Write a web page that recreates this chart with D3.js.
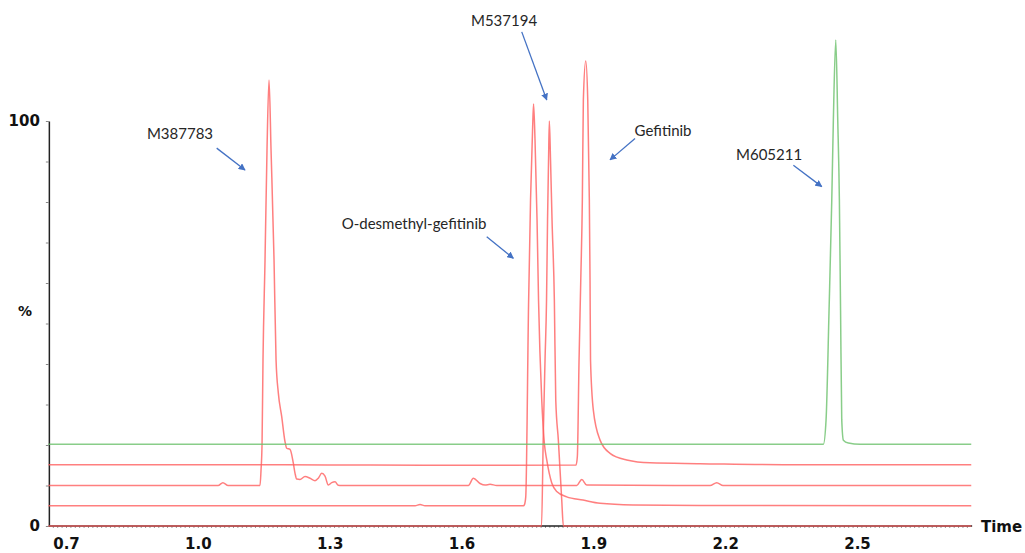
<!DOCTYPE html>
<html>
<head>
<meta charset="utf-8">
<script src="https://cdn.jsdelivr.net/npm/d3@7"></script>
<style>
  html, body { margin: 0; padding: 0; background: #fff; }
  svg { display: block; }
</style>
</head>
<body>
<div id="chart"></div>
<script>
// traces: [time, %] (stacked with baseline offsets)
const traceM605211 = [
  [0.66, 20.2], [1.5, 20.2], [2.4235, 20.2], [2.4296, 26.2], [2.4364, 53.3], [2.4426, 80.5],
  [2.4462, 100.2], [2.4517, 120], [2.4562, 100.2], [2.4599, 80.5], [2.4626, 53.3],
  [2.4653, 26.2], [2.469, 21.2], [2.4804, 20.5], [2.507, 20.2], [2.76, 20.2]
];
const traceGefitinib = [
  [0.66, 15.1], [1.2, 15.1], [1.6, 15], [1.8607, 15.06], [1.8636, 17.1], [1.8675, 41],
  [1.8714, 60.7], [1.875, 80.5], [1.8773, 105.2], [1.8827, 114.8], [1.8873, 105.2],
  [1.8909, 80.5], [1.8925, 60.7], [1.8936, 41], [1.9, 28.6], [1.9153, 21.2], [1.938, 17.95],
  [1.976, 16.3], [2.0291, 15.6], [2.1429, 15.4], [2.3704, 15.1], [2.76, 15.1]
];
const traceM387783 = [
  [0.66, 10], [1.046, 10], [1.057, 10.7], [1.069, 10], [1.1415, 10], [1.1438, 13.8],
  [1.1461, 20.2], [1.1483, 41], [1.1529, 65.7], [1.1574, 92.8], [1.162, 110.1],
  [1.1666, 92.8], [1.1734, 65.7], [1.178, 41], [1.1832, 32.8], [1.1909, 27], [1.1984, 20.8],
  [1.2023, 19.2], [1.2098, 18.9], [1.2173, 15.5], [1.2212, 13], [1.225, 11.6], [1.2325, 11.5],
  [1.2439, 12.2], [1.2553, 11.8], [1.2667, 11.2], [1.2742, 11.8], [1.2819, 13], [1.2894, 12.3],
  [1.2969, 10.1], [1.3047, 10.7], [1.3122, 10.9], [1.3197, 10.05], [1.3258, 10],
  [1.6156, 10], [1.627, 11.8], [1.6422, 10.5], [1.6536, 10.1], [1.665, 10.3], [1.6802, 10],
  [1.8623, 10], [1.8737, 11.5], [1.885, 10.1], [2.1656, 10], [2.1808, 10.7], [2.1952, 10],
  [2.76, 10]
];
const traceDesmethyl = [
  [0.66, 5], [1.4943, 5], [1.5056, 5.3], [1.517, 5], [1.7412, 5], [1.743, 5.2], [1.7462, 7.2],
  [1.7526, 54.6], [1.7571, 80.5], [1.7617, 97.8], [1.764, 104.2], [1.7673, 95.3],
  [1.7719, 75.6], [1.7753, 55.8], [1.7826, 31.1], [1.7885, 20.5], [1.794, 16.3],
  [1.8054, 10.6], [1.8167, 8.5], [1.8395, 7.2], [1.8766, 6.4], [1.9153, 5.6], [1.9904, 5.2],
  [2.1429, 5.05], [2.76, 5]
];
const traceM537194 = [
  [0.66, 0], [1.7821, 0], [1.7862, 23], [1.7901, 41], [1.7935, 55.8], [1.7958, 75.6],
  [1.7981, 90.4], [1.7999, 100], [1.8026, 90.4], [1.806, 75.6], [1.8113, 55.8],
  [1.8145, 31.1], [1.8204, 21.2], [1.8281, 6.4], [1.8318, 0], [2.76, 0]
];

const xTickLabels = [0.7, 1.0, 1.3, 1.6, 1.9, 2.2, 2.5];
const yTickLabels = [0, 100];

// annotation: label anchor [t, %] and arrow from -> to
const labels = ["M387783", "M537194", "O-desmethyl-gefitinib", "Gefitinib", "M605211"];
const labelAt = [[0.9594, 95.5], [1.6968, 123.5], [1.492, 73.3], [2.0587, 96.3], [2.30, 90.3]];
const arrowFrom = [[1.0429, 93.3], [1.7371, 122], [1.6574, 71.4], [1.9949, 95.7], [2.3552, 89.1]];
const arrowTo = [[1.1074, 87.9], [1.794, 105.2], [1.718, 66.1], [1.938, 90.4], [2.4198, 83.8]];

const W = 1025, H = 553;

const svg = d3.select("#chart")
  .append("svg")
  .attr("width", W)
  .attr("height", H);

const x = d3.scaleLinear().domain([0.7, 2.5]).range([66, 857]);
const y = d3.scaleLinear().domain([0, 100]).range([526, 121]);

const tMin = 0.661, tMax = 2.762;

// y axis
const yAxis = svg.append("g")
  .attr("transform", `translate(${x(tMin)},0)`)
  .call(d3.axisLeft(y).tickValues(d3.range(0, 101, 10)).tickSize(3).tickSizeOuter(0)
    .tickFormat(d => yTickLabels.includes(d) ? d : ""));
yAxis.select(".domain").attr("stroke", "#222").attr("stroke-width", 1.5);
yAxis.selectAll(".tick line").attr("stroke", "#888");
yAxis.selectAll("text")
  .attr("x", -9)
  .style("font-family", "DejaVu Sans")
  .style("font-weight", "bold")
  .style("font-size", "15px")
  .attr("fill", "#111");

svg.append("text")
  .attr("x", 25)
  .attr("y", y(53) + 5)
  .attr("text-anchor", "middle")
  .style("font-family", "DejaVu Sans")
  .style("font-weight", "bold")
  .style("font-size", "14px")
  .attr("fill", "#111")
  .text("%");

// x axis: minor ticks + labels
const xMinor = svg.append("g")
  .attr("transform", `translate(0,${y(0)})`)
  .call(d3.axisBottom(x).tickValues(d3.range(67, 276).map(d => d / 100)).tickSize(2).tickSizeOuter(0).tickFormat(""));
xMinor.select(".domain").remove();
xMinor.selectAll(".tick line").attr("stroke", "#999");

const xAxis = svg.append("g")
  .attr("transform", `translate(0,${y(0)})`)
  .call(d3.axisBottom(x).tickValues(xTickLabels).tickSize(0).tickPadding(12).tickFormat(d3.format(".1f")));
xAxis.select(".domain").remove();
xAxis.selectAll("text")
  .style("font-family", "DejaVu Sans")
  .style("font-weight", "bold")
  .style("font-size", "15px")
  .attr("fill", "#111");

svg.append("line")
  .attr("x1", x(tMin)).attr("x2", x(tMax))
  .attr("y1", y(0)).attr("y2", y(0))
  .attr("stroke", "#222")
  .attr("stroke-width", 1.5);

svg.append("text")
  .attr("x", 981)
  .attr("y", y(0) + 6)
  .style("font-family", "DejaVu Sans")
  .style("font-weight", "bold")
  .style("font-size", "15px")
  .attr("fill", "#111")
  .text("Time");

// traces
const line = d3.line()
  .x(d => x(d[0]))
  .y(d => y(d[1]))
  .curve(d3.curveMonotoneX);

const traces = [
  { data: traceM537194, color: "#ff5f5f" },
  { data: traceDesmethyl, color: "#ff5f5f" },
  { data: traceM387783, color: "#ff5f5f" },
  { data: traceGefitinib, color: "#ff5f5f" },
  { data: traceM605211, color: "#6cc06c" }
];

svg.selectAll(".trace")
  .data(traces)
  .join("path")
  .attr("class", "trace")
  .attr("fill", "none")
  .attr("stroke", d => d.color)
  .attr("stroke-opacity", 0.8)
  .attr("stroke-width", 1.5)
  .attr("d", d => line(d.data));

// annotations
svg.append("defs").append("marker")
  .attr("id", "arrow")
  .attr("viewBox", "0 0 10 10")
  .attr("refX", 9).attr("refY", 5)
  .attr("markerWidth", 7).attr("markerHeight", 7)
  .attr("markerUnits", "userSpaceOnUse")
  .attr("orient", "auto")
  .append("path")
  .attr("d", "M0,0 L10,5 L0,10 z")
  .attr("fill", "#4472c4");

svg.selectAll(".arrow")
  .data(labels)
  .join("line")
  .attr("class", "arrow")
  .attr("x1", (d, i) => x(arrowFrom[i][0]))
  .attr("y1", (d, i) => y(arrowFrom[i][1]))
  .attr("x2", (d, i) => x(arrowTo[i][0]))
  .attr("y2", (d, i) => y(arrowTo[i][1]))
  .attr("stroke", "#4472c4")
  .attr("stroke-width", 1.3)
  .attr("marker-end", "url(#arrow)");

svg.selectAll(".label")
  .data(labels)
  .join("text")
  .attr("class", "label")
  .attr("x", (d, i) => x(labelAt[i][0]))
  .attr("y", (d, i) => y(labelAt[i][1]))
  .attr("text-anchor", "middle")
  .style("font-family", "Lato")
  .style("font-size", "15px")
  .attr("fill", "#262626")
  .text(d => d);
</script>
</body>
</html>
